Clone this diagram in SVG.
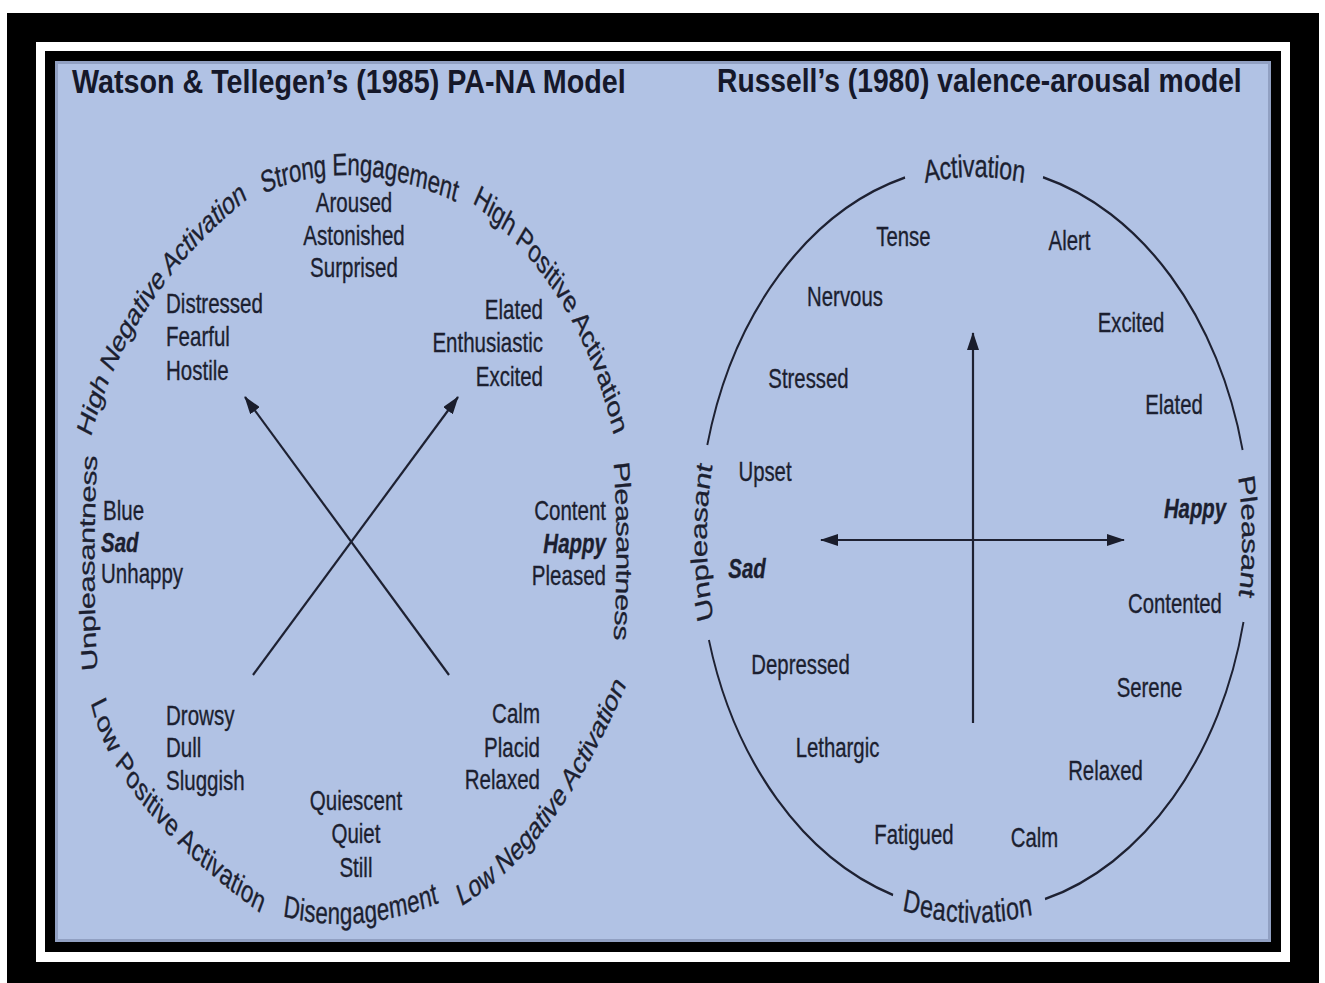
<svg xmlns="http://www.w3.org/2000/svg" width="1325" height="983" viewBox="0 0 1325 983">
<defs>
<style>
.t{font-family:"Liberation Sans",Arial,sans-serif;fill:#1c1f30;stroke:#1c1f30;stroke-width:0.35}
.lbl{font-size:28.5px}
.rlbl{font-size:27.5px}
.bi{font-weight:bold;font-style:italic}
.ring{font-size:31px}
.rring{font-size:31.5px}
.title{font-family:"Liberation Sans",Arial,sans-serif;font-size:33px;font-weight:bold;fill:#15182a}
.ln{stroke:#1e2132;stroke-width:2.2;fill:none}
.arc{stroke:#1e2132;stroke-width:2.6;fill:none}
</style>
<marker id="ah" viewBox="0 0 18 12" refX="17" refY="6" markerWidth="18" markerHeight="12" markerUnits="userSpaceOnUse" orient="auto-start-reverse">
<path d="M0,0 L18,6 L0,12 z" fill="#1a1d2c"/>
</marker>
<path id="p1" d="M 116.7 434 Q 166.7 290 338.9 190 L 373.5 169.9"/>
<path id="p2" d="M 362.5 184 Q 486.8 142 636.1 192 L 674 204.7"/>
<path id="p3" d="M 661.1 194 Q 816 282.5 862.5 433 L 874.3 471.2"/>
<path id="p4" d="M 125 671 Q 116.7 563 125 455 L 128.1 415"/>
<path id="p5" d="M 862.5 462 Q 870.8 551.5 862.5 641 L 858.8 681"/>
<path id="p6" d="M 136.1 699 Q 165.3 798.5 366.7 904 L 402.1 922.6"/>
<path id="p7" d="M 394.4 906 Q 493.75 926.5 606.9 893 L 645.3 881.6"/>
<path id="p8" d="M 636.1 897 Q 765.3 841.5 861.1 680 L 881.5 645.6"/>
<path id="r1" d="M 1160 200.1 A 373 373 0 0 1 1474 200.2"/>
<path id="r2" d="M 1160 876.9 A 373 373 0 0 0 1474 876.8"/>
<path id="r3" d="M 980.7 700 A 373 373 0 0 1 979.3 380"/>
<path id="r4" d="M 1654.5 380 A 373 373 0 0 1 1653.1 700"/>
</defs>

<g id="frame">
<rect x="0" y="0" width="1325" height="983" fill="#ffffff"/>
<rect x="7" y="13" width="1312" height="970" fill="#000000"/>
<rect x="36" y="42" width="1254" height="920" fill="#ffffff"/>
<rect x="45" y="51" width="1236" height="901" fill="#000000"/>
<rect x="55" y="61" width="1216" height="881" fill="#b1c2e4"/>
<rect x="56.5" y="62.5" width="1213" height="878" fill="none" stroke="#8391b3" stroke-width="3" opacity="0.7"/>
</g>

<g id="titles">
<text class="title" transform="translate(72,93) scale(0.870,1)" x="0" y="0">Watson &amp; Tellegen’s (1985) PA-NA Model</text>
<text class="title" transform="translate(717,92) scale(0.856,1)" x="0" y="0">Russell’s (1980) valence-arousal model</text>
</g>

<g id="left-model" transform="scale(0.72,1)">
<g id="left-ring" class="t ring">
<text dominant-baseline="central"><textPath href="#p1" textLength="337" lengthAdjust="spacing">High Negative Activation</textPath></text>
<text dominant-baseline="central"><textPath href="#p2" textLength="279" lengthAdjust="spacing">Strong Engagement</textPath></text>
<text dominant-baseline="central"><textPath href="#p3" textLength="320" lengthAdjust="spacing">High Positive Activation</textPath></text>
<text dominant-baseline="central"><textPath href="#p4" textLength="216" lengthAdjust="spacing">Unpleasantness</textPath></text>
<text dominant-baseline="central"><textPath href="#p5" textLength="179" lengthAdjust="spacing">Pleasantness</textPath></text>
<text dominant-baseline="central"><textPath href="#p6" textLength="316" lengthAdjust="spacing">Low Positive Activation</textPath></text>
<text dominant-baseline="central"><textPath href="#p7" textLength="215" lengthAdjust="spacing">Disengagement</textPath></text>
<text dominant-baseline="central"><textPath href="#p8" textLength="318" lengthAdjust="spacing">Low Negative Activation</textPath></text>
</g>
<g id="n-strong" class="t lbl" text-anchor="middle">
<text x="491.7" y="212">Aroused</text>
<text x="491.7" y="245">Astonished</text>
<text x="491.7" y="277">Surprised</text>
</g>
<g id="n-hna" class="t lbl">
<text x="230.6" y="313">Distressed</text>
<text x="230.6" y="346">Fearful</text>
<text x="230.6" y="380">Hostile</text>
</g>
<g id="n-hpa" class="t lbl" text-anchor="end">
<text x="754.2" y="319">Elated</text>
<text x="754.2" y="352">Enthusiastic</text>
<text x="754.2" y="386">Excited</text>
</g>
<g id="n-unpleasant" class="t lbl">
<text x="143.1" y="520">Blue</text>
<text x="140.3" y="552" class="bi">Sad</text>
<text x="140.3" y="583">Unhappy</text>
</g>
<g id="n-pleasant" class="t lbl" text-anchor="end">
<text x="841.7" y="520">Content</text>
<text x="841.7" y="553" class="bi">Happy</text>
<text x="841.7" y="585">Pleased</text>
</g>
<g id="n-lpa" class="t lbl">
<text x="230.6" y="725">Drowsy</text>
<text x="230.6" y="757">Dull</text>
<text x="230.6" y="790">Sluggish</text>
</g>
<g id="n-lna" class="t lbl" text-anchor="end">
<text x="750" y="723">Calm</text>
<text x="750" y="757">Placid</text>
<text x="750" y="789">Relaxed</text>
</g>
<g id="n-disengagement" class="t lbl" text-anchor="middle">
<text x="494.4" y="810">Quiescent</text>
<text x="494.4" y="843">Quiet</text>
<text x="494.4" y="877">Still</text>
</g>
</g>

<g id="right-model" transform="scale(0.74,1)">
<g id="right-circle">
<path class="arc" d="M 1409.5 177.2 A 373 373 0 0 1 1679.2 450"/>
<path class="arc" d="M 1680.4 622 A 373 373 0 0 1 1412.2 899.1"/>
<path class="arc" d="M 1206.8 894.9 A 373 373 0 0 1 958 640"/>
<path class="arc" d="M 955.8 445 A 373 373 0 0 1 1223 177.5"/>
</g>
<g id="right-ring" class="t rring">
<text dominant-baseline="central" text-anchor="middle"><textPath href="#r1" startOffset="50%" textLength="138" lengthAdjust="spacing">Activation</textPath></text>
<text dominant-baseline="central" text-anchor="middle"><textPath href="#r2" startOffset="152.5" textLength="174" lengthAdjust="spacing">Deactivation</textPath></text>
<text dominant-baseline="central" text-anchor="middle"><textPath href="#r3" startOffset="163" textLength="159" lengthAdjust="spacing">Unpleasant</textPath></text>
<text dominant-baseline="central" text-anchor="middle"><textPath href="#r4" startOffset="161.7" textLength="123" lengthAdjust="spacing">Pleasant</textPath></text>
</g>
<g id="right-labels" class="t rlbl" text-anchor="middle">
<text id="r-tense" x="1220.9" y="246">Tense</text>
<text id="r-alert" x="1445.3" y="250">Alert</text>
<text id="r-nervous" x="1141.9" y="306">Nervous</text>
<text id="r-excited" x="1528.4" y="332">Excited</text>
<text id="r-stressed" x="1092.6" y="388">Stressed</text>
<text id="r-elated" x="1586.5" y="414">Elated</text>
<text id="r-upset" x="1033.8" y="481">Upset</text>
<text id="r-happy" x="1614.9" y="518" class="bi">Happy</text>
<text id="r-sad" x="1009.5" y="578" class="bi">Sad</text>
<text id="r-contented" x="1587.8" y="613">Contented</text>
<text id="r-depressed" x="1081.8" y="674">Depressed</text>
<text id="r-serene" x="1553.4" y="697">Serene</text>
<text id="r-lethargic" x="1131.8" y="757">Lethargic</text>
<text id="r-relaxed" x="1493.9" y="780">Relaxed</text>
<text id="r-fatigued" x="1235.1" y="844">Fatigued</text>
<text id="r-calm" x="1398" y="847">Calm</text>
</g>
</g>

<g id="connectors">
<line class="ln" x1="253" y1="675" x2="458" y2="397" marker-end="url(#ah)"/>
<line class="ln" x1="449" y1="675" x2="245" y2="397" marker-end="url(#ah)"/>
<line class="ln" x1="973" y1="723" x2="973" y2="333" marker-end="url(#ah)"/>
<line class="ln" x1="821" y1="540" x2="1124" y2="540" marker-start="url(#ah)" marker-end="url(#ah)"/>
</g>
</svg>
